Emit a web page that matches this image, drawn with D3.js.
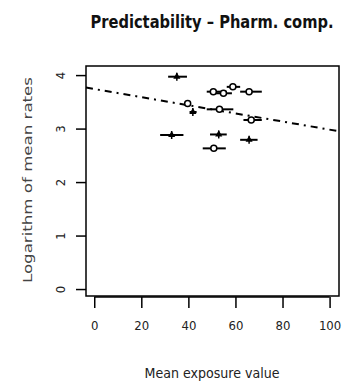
<!DOCTYPE html>
<html><head><meta charset="utf-8">
<script src="https://cdn.jsdelivr.net/npm/d3@7"></script>
<style>
html,body{margin:0;padding:0;background:#fff;}
svg{display:block;}
text{font-family:"DejaVu Sans Condensed","DejaVu Sans",sans-serif;font-stretch:condensed;}
</style></head>
<body>
<script>
// ---- data ----
const meanExposure = [35.1, 50.6, 54.9, 58.9, 65.8, 39.7, 41.9, 53.2, 66.7, 32.9, 52.9, 65.8, 50.8];
const logMeanRate  = [3.97, 3.69, 3.66, 3.78, 3.69, 3.47, 3.31, 3.36, 3.16, 2.88, 2.89, 2.79, 2.63];
const exposureLow  = [31.4, 47.8, 51.5, 56.3, 62.0, 38.5, 40.5, 47.8, 63.4, 28.0, 49.2, 62.0, 46.1];
const exposureHigh = [39.4, 56.3, 58.5, 62.0, 71.2, 41.0, 43.5, 59.1, 71.2, 37.9, 56.3, 69.4, 55.9];
const filledPoint  = [true, false, false, false, false, false, true, false, false, true, true, true, false];
const fitIntercept = 3.74;
const fitSlope = -0.0076;
const xTicks = [0, 20, 40, 60, 80, 100];
const yTicks = [0, 1, 2, 3, 4];
const titleText = "Predictability \u2013 Pharm. comp.";
const xTitle = "Mean exposure value";
const yTitle = "Logarithm of mean rates";

const W = 345, H = 385;
const svg = d3.select("body").append("svg").attr("width", W).attr("height", H);
const x = d3.scaleLinear().domain([-3.5, 104]).range([86, 339]);
const y = d3.scaleLinear().domain([-0.13, 4.17]).range([296, 66]);

// box
svg.append("rect").attr("x", 86).attr("y", 66).attr("width", 253).attr("height", 230)
  .attr("fill", "none").attr("stroke", "#000").attr("stroke-width", 1.5);

// axes
const xAxis = svg.append("g").attr("transform", "translate(0,297)")
  .call(d3.axisBottom(x).tickValues(xTicks).tickSize(11).tickPadding(13).tickFormat(d3.format("d")));
xAxis.select(".domain").attr("d", `M${x(0)},0H${x(100)}`).attr("stroke-width", 1.5);
xAxis.selectAll(".tick line").attr("stroke-width", 1.5);
xAxis.selectAll(".tick text").attr("font-size", 13).attr("fill", "#222");

const yAxis = svg.append("g").attr("transform", "translate(86,0)")
  .call(d3.axisLeft(y).tickValues(yTicks).tickSize(10).tickFormat(d3.format("d")));
yAxis.select(".domain").remove();
yAxis.selectAll(".tick line").attr("stroke-width", 1.5);
yAxis.selectAll(".tick text")
  .attr("font-size", 13).attr("fill", "#222")
  .attr("text-anchor", "middle").attr("x", 0).attr("dy", 0)
  .attr("transform", "translate(-21,0) rotate(-90)");

// regression line
svg.append("line")
  .attr("x1", x(-3.5)).attr("y1", y(fitIntercept + fitSlope * -3.5))
  .attr("x2", x(104)).attr("y2", y(fitIntercept + fitSlope * 104))
  .attr("stroke", "#000").attr("stroke-width", 2).attr("stroke-dasharray", "7,5,2,5");

// points
const idx = d3.range(meanExposure.length);
svg.append("g").selectAll("line").data(idx).join("line")
  .attr("x1", i => x(exposureLow[i])).attr("x2", i => x(exposureHigh[i]))
  .attr("y1", i => y(logMeanRate[i])).attr("y2", i => y(logMeanRate[i]))
  .attr("stroke", "#000").attr("stroke-width", 2);

const g = svg.append("g");
idx.forEach(i => {
  const cx = x(meanExposure[i]), cy = y(logMeanRate[i]);
  if (filledPoint[i]) {
    g.append("path").attr("d", d3.symbol(d3.symbolTriangle, 22)())
      .attr("transform", `translate(${cx},${cy})`).attr("fill", "#000");
    g.append("line").attr("x1", cx).attr("x2", cx).attr("y1", cy - 4).attr("y2", cy + 4)
      .attr("stroke", "#000").attr("stroke-width", 1.5);
  } else {
    g.append("circle").attr("cx", cx).attr("cy", cy).attr("r", 3)
      .attr("fill", "#fff").attr("stroke", "#000").attr("stroke-width", 1.5);
  }
});

// titles
svg.append("text").attr("x", 212).attr("y", 28).attr("text-anchor", "middle")
  .attr("font-size", 17).attr("font-weight", "bold").attr("fill", "#111")
  .attr("textLength", 243).attr("lengthAdjust", "spacingAndGlyphs").text(titleText);
svg.append("text").attr("x", 212).attr("y", 378).attr("text-anchor", "middle")
  .attr("font-size", 14).attr("fill", "#222")
  .attr("textLength", 135).attr("lengthAdjust", "spacingAndGlyphs").text(xTitle);
svg.append("text").attr("transform", "translate(32,180) rotate(-90)").attr("text-anchor", "middle")
  .attr("font-size", 13).attr("fill", "#444")
  .attr("textLength", 206).attr("lengthAdjust", "spacingAndGlyphs").text(yTitle);
</script>
</body></html>
